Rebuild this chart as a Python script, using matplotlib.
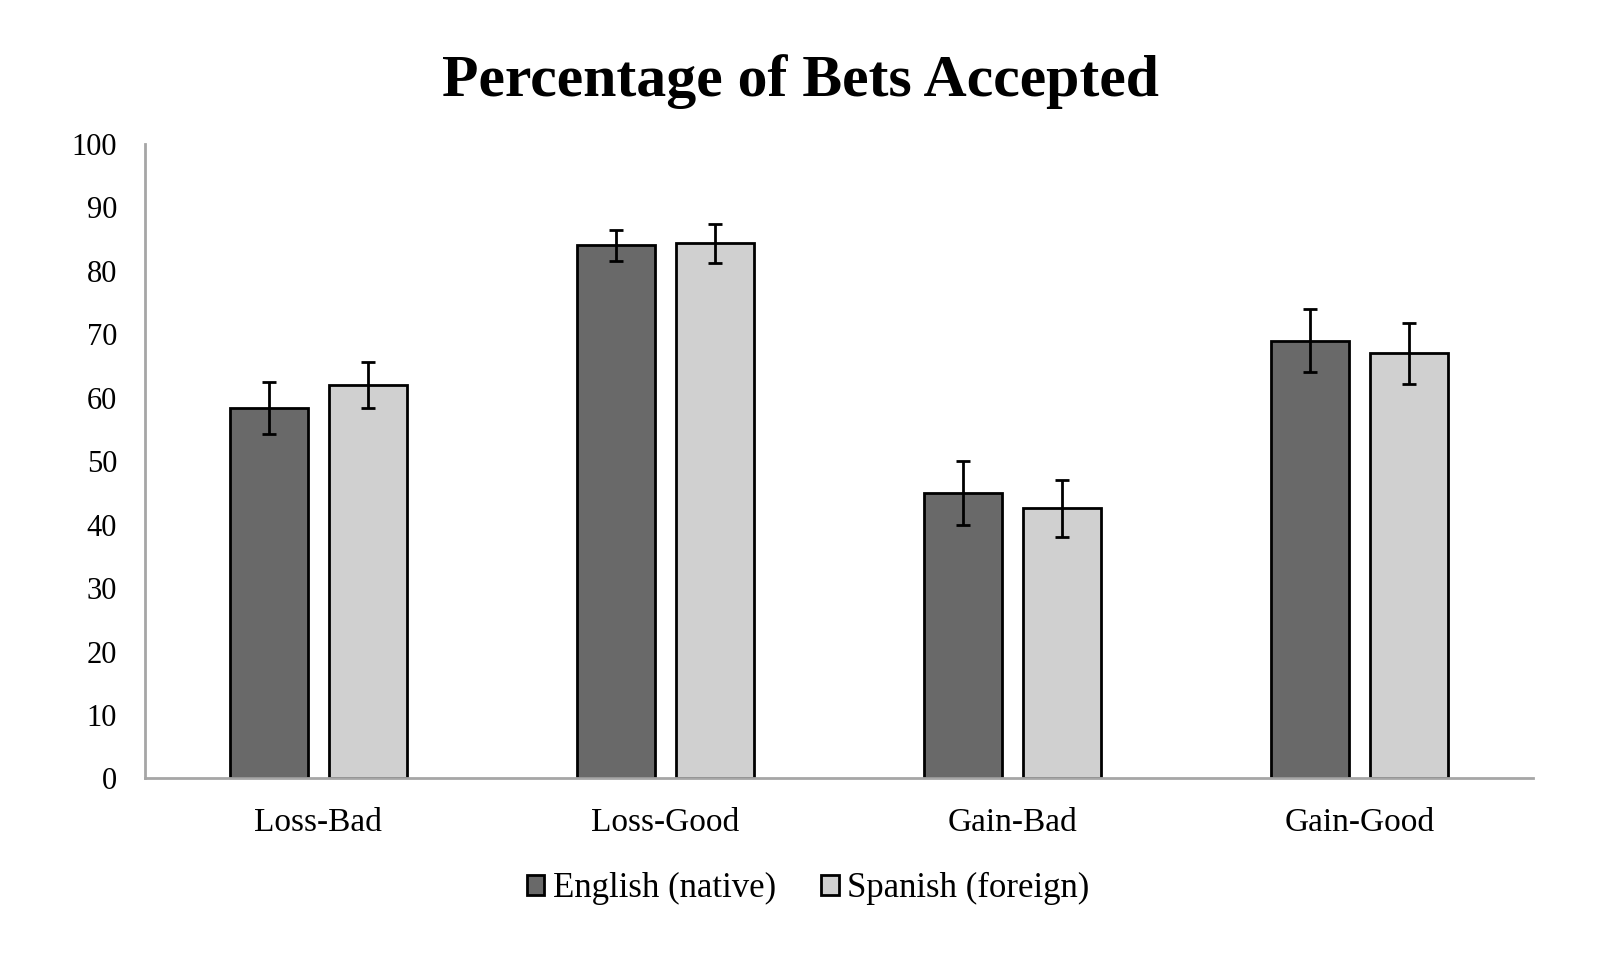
import numpy as np
from matplotlib import pyplot as plt

# data
categories = ["Loss-Bad", "Loss-Good", "Gain-Bad", "Gain-Good"]
english = [58.3, 84.0, 45.0, 69.0]
english_err = [4.1, 2.4, 5.0, 4.9]
spanish = [62.0, 84.3, 42.6, 67.0]
spanish_err = [3.7, 3.0, 4.5, 4.8]
y_ticks = [0, 10, 20, 30, 40, 50, 60, 70, 80, 90, 100]

plt.rcParams['font.family'] = ['Liberation Serif', 'DejaVu Serif']

fig = plt.figure(figsize=(16, 9.57), dpi=100)
ax = fig.add_axes([0.0905, 0.1866, 0.8675, 0.6631])

x = np.arange(len(categories))
w = 0.225
off = 0.143
err_style = dict(ecolor="black", elinewidth=2, capsize=5, capthick=2)

ax.bar(x - off, english, w, yerr=english_err, color="#696969", edgecolor="black",
       linewidth=2, label="English (native)", error_kw=err_style)
ax.bar(x + off, spanish, w, yerr=spanish_err, color="#d0d0d0", edgecolor="black",
       linewidth=2, label="Spanish (foreign)", error_kw=err_style)

ax.set_xlim(-0.5, len(categories) - 0.5)
ax.set_ylim(0, 100)
ax.set_yticks(y_ticks)
ax.set_xticks(x)
ax.set_xticklabels(categories)
ax.tick_params(axis="y", length=0, labelsize=22, pad=20)
ax.tick_params(axis="x", length=0, labelsize=24, pad=21)

for side in ["top", "right"]:
    ax.spines[side].set_visible(False)
for side in ["left", "bottom"]:
    ax.spines[side].set_color("#a6a6a6")
    ax.spines[side].set_linewidth(2)

fig.text(0.5, 0.915, "Percentage of Bets Accepted", ha="center", va="center",
         fontsize=43, fontweight="bold")

ax.legend(loc="upper center", bbox_to_anchor=(0.478, -0.098), ncol=2, frameon=False,
          fontsize=25, handlelength=0.5, handleheight=0.5, handletextpad=0.25,
          columnspacing=1.3)

plt.savefig("out.png", dpi=100)
